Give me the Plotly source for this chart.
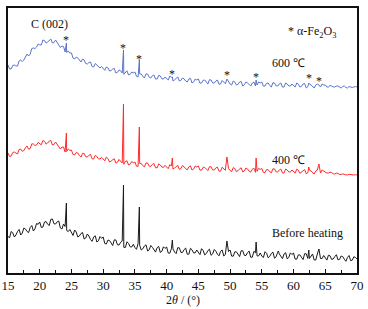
import plotly.graph_objects as go

# sampling positions (2theta, deg) for the diffuse background
two_theta = [15.0 + 0.5 * i for i in range(111)]          # 15.0, 15.5, ... 70.0
two_theta_mid = [15.25 + 0.5 * i for i in range(110)]     # 15.25, 15.75, ... 69.75

# 600 C (blue) background intensity (a.u.)
bg_600 = [208, 204, 208, 207, 213, 213, 219, 219, 225, 226,
          228, 233, 230, 233, 230, 233, 228, 227, 221, 222,
          220, 214, 215, 211, 213, 209, 211, 206, 208, 205,
          204, 206, 202, 204, 200, 203, 200, 201, 198, 201,
          201, 196, 199, 195, 199, 195, 198, 194, 197, 194,
          194, 197, 192, 195, 192, 195, 192, 194, 190, 194,
          194, 190, 193, 189, 193, 190, 193, 189, 191, 189,
          189, 192, 188, 191, 187, 191, 188, 190, 187, 191,
          191, 187, 190, 186, 190, 187, 190, 186, 189, 187,
          187, 190, 186, 189, 185, 189, 186, 188, 185, 189,
          188, 186, 187, 186, 187, 185, 187, 185, 186, 186,
          186]
bg_600_mid = [204, 207.5, 207, 212, 211.5, 216.5, 217, 224.5, 224.5, 229,
              228, 232.5, 231, 234, 230.5, 231, 225.5, 226.5, 220.5, 220,
              215, 216, 212.5, 214, 209.5, 210.5, 206.5, 209.5, 205.5, 206.5,
              202.7, 205.2, 202.5, 204.5, 200.7, 202.2, 198.7, 202.2, 198.7, 200.2,
              196.7, 199.2, 196.7, 199.2, 195.7, 197.2, 194, 197.7, 194.2, 196,
              193, 195.7, 193.2, 196, 192.7, 194.2, 191, 194.7, 191.2, 193,
              189.9, 192.7, 190.5, 193.3, 190.1, 191.9, 188.7, 192.5, 189.3, 191.1,
              188, 190.9, 188.7, 191.5, 188.3, 190.1, 187, 191, 188, 190,
              186.9, 189.7, 187.5, 190.3, 187.1, 189, 186, 190, 187, 189,
              186, 188.9, 186.7, 189.5, 186.3, 188.1, 185, 189, 186, 188,
              186, 187.5, 186, 187, 185.5, 186.5, 185.5, 186.5, 185.5, 186.5]

# 400 C (red) background intensity
bg_400 = [120, 117, 121, 119, 124, 122.5, 127, 124.5, 129, 128,
          129, 132.5, 129, 132, 128, 131, 126, 126, 121, 124,
          123, 118, 120, 116, 119.5, 116, 118.5, 114, 116.5, 114,
          113.5, 116, 111, 113.5, 110, 113.5, 110, 111.5, 108, 111.5,
          111, 106.7, 109.5, 106.2, 110, 106.7, 109.5, 105.2, 108, 105.7,
          105.5, 108.2, 104, 106.8, 103.6, 107.4, 104.2, 106.1, 103, 107,
          107, 102.8, 105.6, 102.4, 106.2, 103, 105.9, 101.8, 104.7, 102.6,
          102.5, 105.4, 101.3, 104.2, 101.1, 105, 101.9, 103.8, 100.7, 104.6,
          104.5, 100.4, 103.3, 100.2, 104.1, 101, 104, 100, 103, 101,
          101, 103.8, 99.6, 102.4, 99.2, 103, 100, 102, 99, 103,
          101.5, 100, 100.5, 99, 99.5, 98.5, 98.5, 98, 98.3, 98,
          98]
bg_400_mid = [116.5, 120.5, 119.5, 123.5, 121.7, 125.2, 123.7, 129.2, 127.5, 130.5,
              128.2, 131.7, 130, 132.5, 128.5, 129, 124, 126, 121.5, 122.5,
              118.5, 120.5, 117.5, 119.7, 116.2, 117.7, 114.2, 117.7, 114.2, 115.7,
              112.2, 114.5, 111.7, 114.2, 110.7, 112.2, 108.7, 112.2, 108.7, 110.2,
              106.8, 109.6, 107.3, 110.1, 106.8, 108.6, 105.3, 109.1, 105.8, 107.6,
              104.3, 107.1, 104.9, 107.7, 104.5, 106.3, 103.2, 107.1, 104, 106,
              102.9, 105.7, 103.5, 106.3, 103.1, 105, 101.9, 105.8, 102.7, 104.6,
              101.5, 104.4, 102.3, 105.2, 102.1, 104, 100.9, 104.8, 101.7, 103.6,
              100.5, 103.4, 101.3, 104.2, 101.1, 103, 100, 104, 101, 103,
              100, 102.8, 100.6, 103.4, 100.2, 102, 99, 103, 100, 102,
              100, 100.8, 99.2, 99.9, 98.5, 99.2, 98, 98.7, 97.7, 98.3]

# before heating (black) background intensity
bg_raw = [36.5, 41.5, 36, 41.5, 38, 45, 41.5, 45.5, 42, 49.5,
          51, 46, 51.5, 47.5, 54, 49, 52, 44, 46.5, 41.5,
          39.5, 43, 36, 39.5, 34, 39, 33.5, 36, 31, 36.5,
          36, 29, 32.5, 27.5, 33, 28, 32, 25.5, 29.5, 26,
          25.5, 29.5, 23, 27, 22, 27.5, 22.5, 25.3, 20.5, 26.2,
          26, 19.8, 24.1, 19.4, 25.2, 20.5, 24.9, 18.8, 23.2, 20.1,
          20, 24.3, 18.1, 22.4, 17.7, 23.5, 18.8, 21.6, 17, 22.8,
          23, 16.8, 21.1, 16.4, 22.2, 17.5, 21.9, 15.8, 20.2, 17.1,
          17, 21.3, 15.2, 19.5, 14.8, 20.7, 16, 18.9, 14.2, 20.1,
          20, 13.8, 18.1, 13.4, 19.2, 14.5, 19, 13, 17.5, 14.5,
          15, 17.8, 13.6, 16.4, 13.2, 17, 13.8, 15.6, 12.4, 16.2,
          14]
bg_raw_mid = [35.2, 40.2, 38, 43.5, 40, 44, 40.5, 47.5, 44.2, 48.7,
              45.5, 51, 48.7, 53.7, 49.2, 51.2, 45, 49, 42.5, 43.5,
              37.5, 41, 37, 40.5, 35, 37, 31.7, 37.2, 32.2, 34.7,
              29.5, 33, 29.2, 33.2, 28.2, 30.7, 25.7, 31.2, 26.2, 28.7,
              23.7, 27.7, 24.2, 28.2, 23.2, 25.7, 20.9, 26.6, 21.8, 24.6,
              19.9, 24.2, 21, 25.3, 20.6, 23.4, 18.8, 24.7, 20.1, 23,
              18.4, 22.7, 19.5, 23.8, 19.1, 21.9, 17.2, 23, 18.4, 21.4,
              16.9, 21.2, 18, 22.3, 17.6, 20.4, 15.8, 21.7, 17.1, 20,
              15.4, 19.7, 16.6, 20.9, 16.2, 19.1, 14.4, 20.3, 15.6, 18.5,
              13.9, 18.2, 15, 19.3, 14.6, 17.5, 13, 19, 14.5, 17.5,
              12.9, 17.2, 14, 18.3, 13.6, 16.4, 11.7, 17.5, 12.8, 15.6]

# alpha-Fe2O3 reflections: positions and peak-top intensities
peak_pos = [24.2, 33.2, 35.7, 40.9, 49.5, 54.1, 62.4, 64.0]
peak_600 = [230, 223, 213, 196, 194, 193, 190, 188]
peak_400 = [140, 169, 146, 115, 116, 115, 106, 109]
peak_raw_pos = [24.2, 33.2, 35.7, 40.9, 49.5, 54.1, 57.6, 62.4, 64.0]
peak_raw = [70, 88, 66, 33, 32, 31, 22, 23, 24]

# star marker heights (600 C pattern)
star_y = [233, 225, 214, 199, 198, 196, 195, 192]

x_ticks = [15, 20, 25, 30, 35, 40, 45, 50, 55, 60, 65, 70]


def merge(parts):
    d = {}
    for xs, ys in parts:
        d.update(zip(xs, ys))
    k = sorted(d)
    return k, [d[v] for v in k]


fig = go.Figure()
series = [
    (bg_600, bg_600_mid, peak_pos, peak_600, "#5a74cc"),
    (bg_400, bg_400_mid, peak_pos, peak_400, "#ff2a2a"),
    (bg_raw, bg_raw_mid, peak_raw_pos, peak_raw, "#1a1a1a"),
]
for bg, bgm, px, py, col in series:
    xx, yy = merge([(two_theta, bg), (two_theta_mid, bgm), (px, py)])
    fig.add_trace(go.Scatter(x=xx, y=yy, mode="lines",
                             line=dict(color=col, width=1), showlegend=False,
                             hoverinfo="skip"))

FAM = "Liberation Serif, Times New Roman, serif"


def f(size):
    return dict(family=FAM, size=size, color="#111")


ann = []
for x, y in zip(peak_pos, star_y):
    ann.append(dict(x=x, y=y, text="*", showarrow=False, xanchor="center",
                    yanchor="middle", font=f(12)))
ann += [
    dict(x=21.6, y=249, text="C (002)", showarrow=False, font=f(12)),
    dict(x=59.2, y=210, text="600 ℃", showarrow=False, font=f(12)),
    dict(x=62.9, y=241, text="* α-Fe<sub>2</sub>O<sub>3</sub>", showarrow=False, font=f(12)),
    dict(x=59.2, y=113, text="400 ℃", showarrow=False, font=f(12)),
    dict(x=62.2, y=40, text="Before heating", showarrow=False, font=f(12)),
    dict(x=0.5, y=-0.1, xref="paper", yref="paper", text="2<i>θ</i> / (°)",
         showarrow=False, xanchor="center", yanchor="middle", font=f(12)),
]

fig.update_layout(
    width=368, height=309,
    margin=dict(l=8, r=11, t=8, b=36, autoexpand=False),
    plot_bgcolor="white", paper_bgcolor="white",
    annotations=ann,
    xaxis=dict(range=[15, 70], tickvals=x_ticks, ticks="inside", ticklen=4,
               tickwidth=1, tickcolor="#111", automargin=False,
               minor=dict(ticks="inside", ticklen=3, dtick=2.5, tickcolor="#111"),
               showline=True, linecolor="#111", linewidth=1.5, mirror=True,
               showgrid=False, zeroline=False,
               tickfont=f(13)),
    yaxis=dict(range=[0, 265], showticklabels=False, ticks="", automargin=False,
               showline=True, linecolor="#111", linewidth=1.5, mirror=True,
               showgrid=False, zeroline=False),
)

fig.write_html("out.html", config={"displayModeBar": False},
               post_script="document.body.style.margin='0px';"
                           "document.body.style.overflow='hidden';")
